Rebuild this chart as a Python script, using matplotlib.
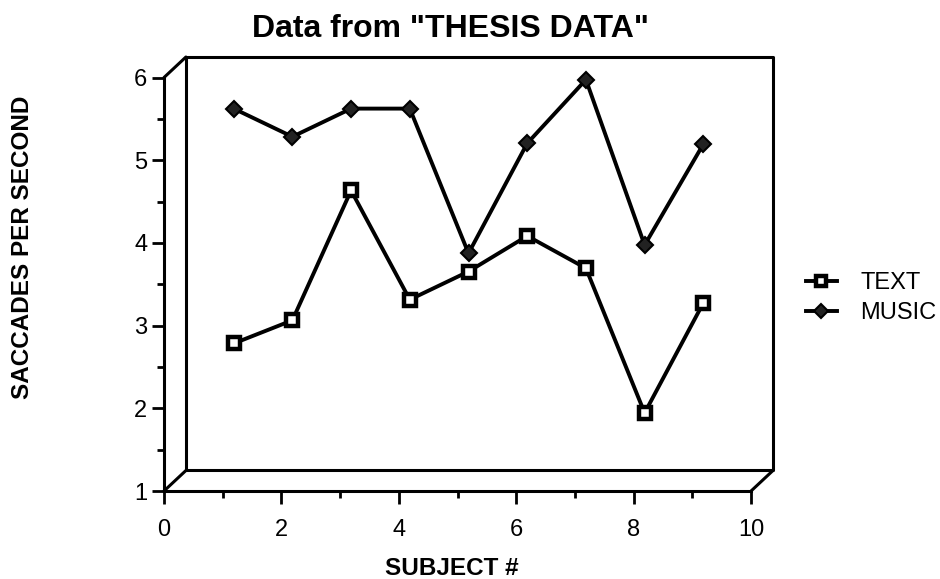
import matplotlib
matplotlib.use('Agg')
import matplotlib.pyplot as plt
from matplotlib.ticker import MultipleLocator

plt.rcParams['font.family'] = ['Liberation Sans', 'DejaVu Sans']

# data
subjects = [1, 2, 3, 4, 5, 6, 7, 8, 9]
text_rate = [2.66, 2.94, 4.51, 3.19, 3.53, 3.96, 3.57, 1.82, 3.15]
music_rate = [5.50, 5.16, 5.50, 5.50, 3.75, 5.08, 5.85, 3.85, 5.07]

title = 'Data from "THESIS DATA"'
x_label = 'SUBJECT #'
y_label = 'SACCADES PER SECOND'

# depth of the fake 3d box, in data units
DX = 0.3735
DY = 0.248

fig = plt.figure(figsize=(9.4, 5.79), dpi=100)
ax = fig.add_axes([164 / 940, 88 / 579, 609 / 940, 434 / 579])
ax.set_xlim(0, 10 + DX)
ax.set_ylim(1, 6 + DY)

for s in ['top', 'right']:
    ax.spines[s].set_visible(False)
ax.spines['left'].set_bounds(1, 6)
ax.spines['bottom'].set_bounds(0, 10)
ax.spines['left'].set_linewidth(2.2)
ax.spines['bottom'].set_linewidth(2.2)

ax.xaxis.set_minor_locator(MultipleLocator(1))
ax.yaxis.set_minor_locator(MultipleLocator(0.5))
ax.set_xticks([0, 2, 4, 6, 8, 10])
ax.set_yticks([1, 2, 3, 4, 5, 6])
ax.tick_params(axis='both', which='major', length=9, width=2, labelsize=17)
ax.tick_params(axis='both', which='minor', length=5, width=2)
ax.tick_params(axis='x', pad=11)
ax.tick_params(axis='y', pad=3)

# box outline: back wall, floor and corner connectors
box_kw = dict(color='black', lw=2.2, clip_on=False, solid_capstyle='round')
ax.plot([DX, DX, 10 + DX, 10 + DX, DX], [1 + DY, 6 + DY, 6 + DY, 1 + DY, 1 + DY], **box_kw)
ax.plot([0, DX], [6, 6 + DY], **box_kw)
ax.plot([0, DX], [1, 1 + DY], **box_kw)
ax.plot([10, 10 + DX], [1, 1 + DY], **box_kw)

# series drawn half way into the box
xs = [x + DX / 2 for x in subjects]
text_line, = ax.plot(xs, [y + DY / 2 for y in text_rate], color='black', lw=2.8,
                     marker='s', markersize=9, markerfacecolor='white',
                     markeredgecolor='black', markeredgewidth=3.2, clip_on=False, zorder=3)
music_line, = ax.plot(xs, [y + DY / 2 for y in music_rate], color='black', lw=2.8,
                      marker='D', markersize=8.5, markerfacecolor='#222222',
                      markeredgecolor='black', markeredgewidth=1.5, clip_on=False, zorder=3)

leg = ax.legend([text_line, music_line], ['TEXT', 'MUSIC'], frameon=False,
                loc='center left', bbox_to_anchor=(806 / 940, 1 - 298 / 579),
                bbox_transform=fig.transFigure, fontsize=17, handlelength=1.3,
                handletextpad=1.0, labelspacing=0.35, borderpad=0, borderaxespad=0,
                markerscale=0.85)

fig.text(450 / 940, 1 - 37 / 579, title, ha='center', va='baseline',
         fontsize=23, fontweight='bold')
fig.text(452 / 940, 1 - 575 / 579, x_label, ha='center', va='baseline',
         fontsize=17.5, fontweight='bold')
fig.text(23 / 940, 1 - 247 / 579, y_label, ha='center', va='center',
         rotation=90, fontsize=17.5, fontweight='bold')

fig.savefig('out.png', dpi=100)
